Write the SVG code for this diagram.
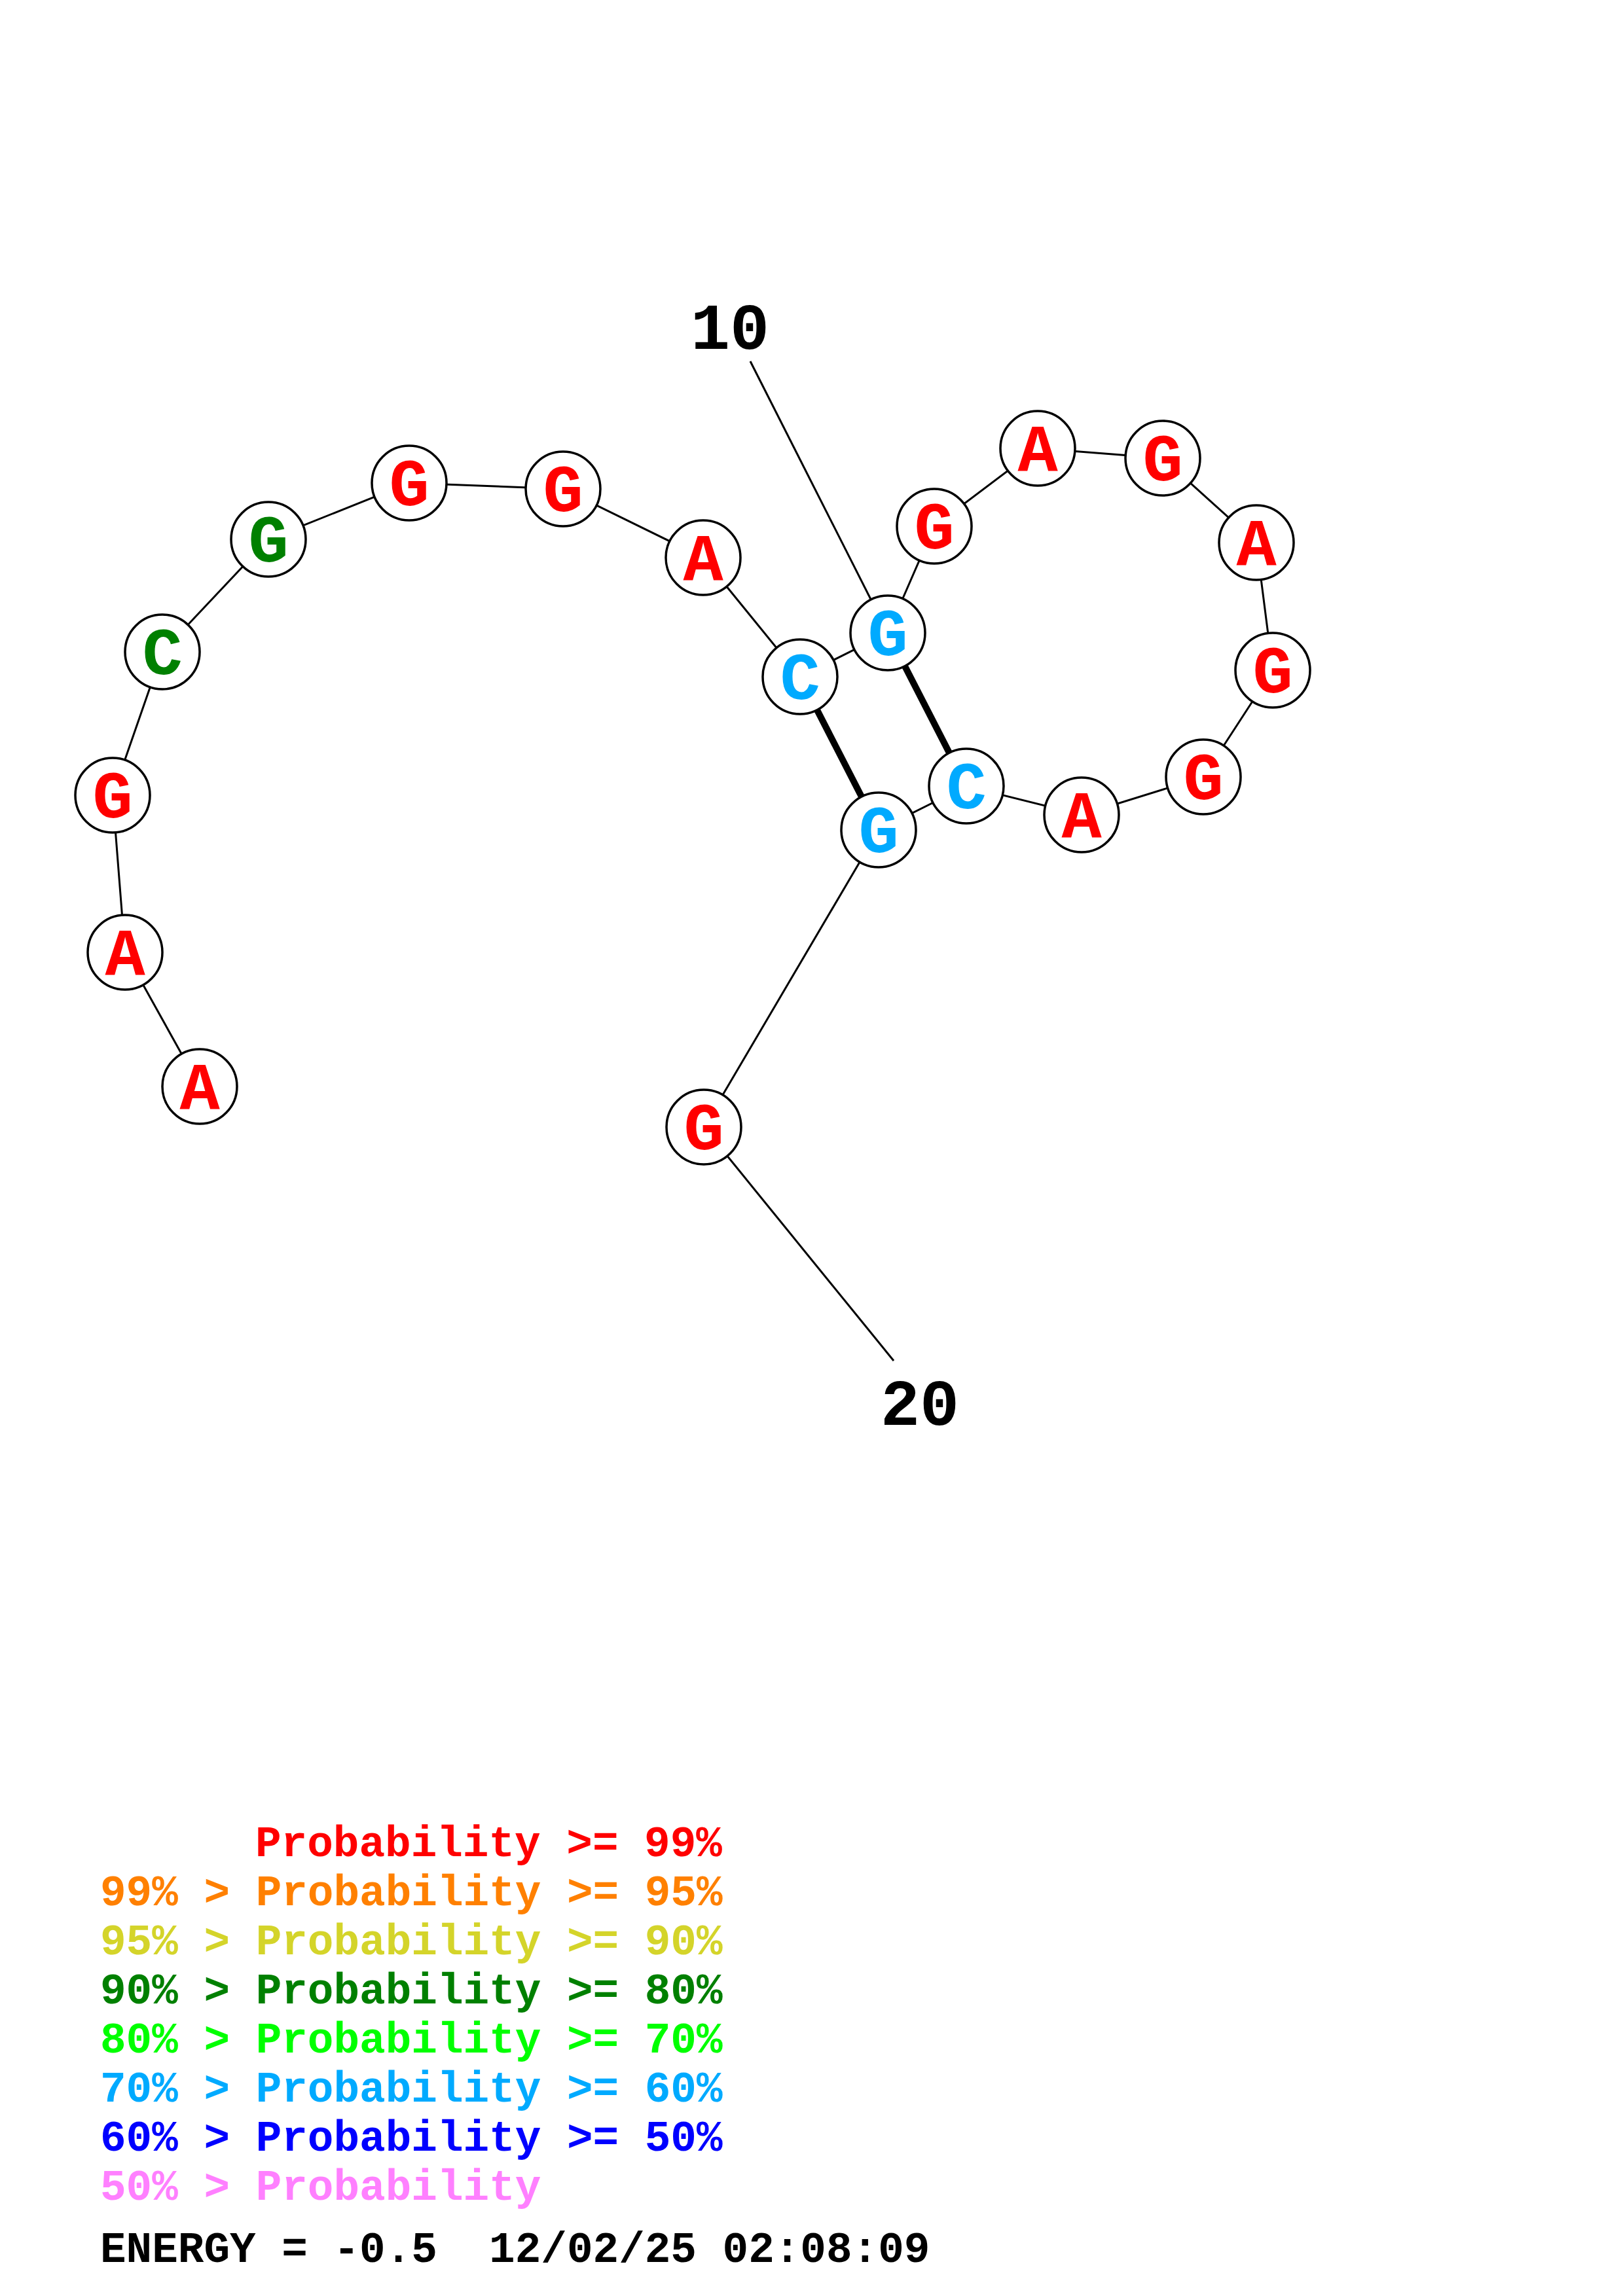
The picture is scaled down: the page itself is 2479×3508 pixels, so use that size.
<svg xmlns="http://www.w3.org/2000/svg" width="2479" height="3508" viewBox="0 0 2479 3508">
<style>
.bb{stroke:#000;stroke-width:3;fill:none}
.pr{stroke:#000;stroke-width:10;fill:none}
.nc{fill:#fff;stroke:#000;stroke-width:3.5}
.nt{font-family:"Liberation Mono","Courier New",monospace;font-weight:bold;font-size:102px;text-anchor:middle}
.r{fill:#ff0000}.g{fill:#008000}.b{fill:#00aaff}
.num{font-family:"Liberation Mono","Courier New",monospace;font-weight:bold;font-size:100px;text-anchor:middle;fill:#000}
.lg{font-family:"Liberation Mono","Courier New",monospace;font-weight:bold;font-size:66px;white-space:pre}
</style>
<rect width="2479" height="3508" fill="#fff"/>
<g id="connectors">
<polyline class="bb" points="305,1660 191,1455 172,1215 248,996 410,824 625,738 860,747 1074,852 1222,1034 1356,967 1427,804 1585,685 1776,700 1919,829 1944,1024 1838,1187 1652,1245 1476,1201 1342,1268 1075,1722"/>
<line class="pr" x1="1222" y1="1034" x2="1342" y2="1268"/>
<line class="pr" x1="1356" y1="967" x2="1476" y2="1201"/>
<line class="bb" x1="1146" y1="552" x2="1356" y2="967"/>
<line class="bb" x1="1075" y1="1722" x2="1365" y2="2079"/>
</g>
<g id="n1"><circle class="nc" cx="305" cy="1660" r="57"/><text class="nt r" x="305" y="1694">A</text></g>
<g id="n2"><circle class="nc" cx="191" cy="1455" r="57"/><text class="nt r" x="191" y="1489">A</text></g>
<g id="n3"><circle class="nc" cx="172" cy="1215" r="57"/><text class="nt r" x="172" y="1249">G</text></g>
<g id="n4"><circle class="nc" cx="248" cy="996" r="57"/><text class="nt g" x="248" y="1030">C</text></g>
<g id="n5"><circle class="nc" cx="410" cy="824" r="57"/><text class="nt g" x="410" y="858">G</text></g>
<g id="n6"><circle class="nc" cx="625" cy="738" r="57"/><text class="nt r" x="625" y="772">G</text></g>
<g id="n7"><circle class="nc" cx="860" cy="747" r="57"/><text class="nt r" x="860" y="781">G</text></g>
<g id="n8"><circle class="nc" cx="1074" cy="852" r="57"/><text class="nt r" x="1074" y="886">A</text></g>
<g id="n9"><circle class="nc" cx="1222" cy="1034" r="57"/><text class="nt b" x="1222" y="1068">C</text></g>
<g id="n10"><circle class="nc" cx="1356" cy="967" r="57"/><text class="nt b" x="1356" y="1001">G</text></g>
<g id="n11"><circle class="nc" cx="1427" cy="804" r="57"/><text class="nt r" x="1427" y="838">G</text></g>
<g id="n12"><circle class="nc" cx="1585" cy="685" r="57"/><text class="nt r" x="1585" y="719">A</text></g>
<g id="n13"><circle class="nc" cx="1776" cy="700" r="57"/><text class="nt r" x="1776" y="734">G</text></g>
<g id="n14"><circle class="nc" cx="1919" cy="829" r="57"/><text class="nt r" x="1919" y="863">A</text></g>
<g id="n15"><circle class="nc" cx="1944" cy="1024" r="57"/><text class="nt r" x="1944" y="1058">G</text></g>
<g id="n16"><circle class="nc" cx="1838" cy="1187" r="57"/><text class="nt r" x="1838" y="1221">G</text></g>
<g id="n17"><circle class="nc" cx="1652" cy="1245" r="57"/><text class="nt r" x="1652" y="1279">A</text></g>
<g id="n18"><circle class="nc" cx="1476" cy="1201" r="57"/><text class="nt b" x="1476" y="1235">C</text></g>
<g id="n19"><circle class="nc" cx="1342" cy="1268" r="57"/><text class="nt b" x="1342" y="1302">G</text></g>
<g id="n20"><circle class="nc" cx="1075" cy="1722" r="57"/><text class="nt r" x="1075" y="1756">G</text></g>
<g id="labels">
<text class="num" x="1115" y="533">10</text>
<text class="num" x="1405" y="2177">20</text>
</g>
<g id="legend">
<text class="lg" x="390" y="2836" fill="#ff0000">Probability &gt;= 99%</text>
<text class="lg" x="153" y="2911" fill="#ff8000">99% &gt; Probability &gt;= 95%</text>
<text class="lg" x="153" y="2986" fill="#d4d42a">95% &gt; Probability &gt;= 90%</text>
<text class="lg" x="153" y="3061" fill="#008000">90% &gt; Probability &gt;= 80%</text>
<text class="lg" x="153" y="3136" fill="#00ff00">80% &gt; Probability &gt;= 70%</text>
<text class="lg" x="153" y="3211" fill="#00aaff">70% &gt; Probability &gt;= 60%</text>
<text class="lg" x="153" y="3286" fill="#0000ff">60% &gt; Probability &gt;= 50%</text>
<text class="lg" x="153" y="3361" fill="#ff80ff">50% &gt; Probability</text>
<text class="lg" x="153" y="3456" fill="#000">ENERGY = -0.5  12/02/25 02:08:09</text>
</g>
</svg>
